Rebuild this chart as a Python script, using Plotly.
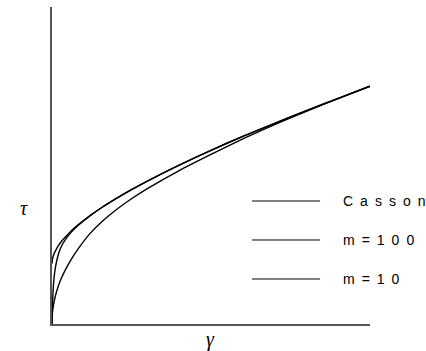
import plotly.graph_objects as go

# shear rate (arbitrary units)
gamma = [0, 0.1, 0.25, 0.5, 1, 2, 3, 4, 6, 8, 12, 16, 20, 25, 30, 40, 50, 60, 70, 80, 90, 100]

# shear stress for each curve
tau_casson = [19.0, 20.2, 20.9, 21.8, 22.9, 24.7, 26.1, 27.2, 29.3, 31.1, 34.2, 37.0,
              39.5, 42.4, 45.1, 50.1, 54.8, 59.2, 63.3, 67.3, 71.2, 75.0]
tau_m100 = [0.0, 4.6, 8.6, 12.8, 17.4, 22.0, 24.6, 26.3, 28.9, 30.9, 34.2, 37.0,
            39.5, 42.4, 45.1, 50.1, 54.8, 59.2, 63.3, 67.3, 71.2, 75.0]
tau_m10 = [0.0, 3.0, 4.6, 6.2, 8.6, 12.0, 14.6, 16.7, 20.3, 23.4, 28.6, 32.6,
           35.9, 39.5, 42.7, 48.4, 53.5, 58.4, 62.9, 67.1, 71.1, 75.0]

series = [
    ("C\u2002a\u2002s\u2002s\u2002o\u2002n", tau_casson),
    ("m\u2002=\u20021\u20020\u20020", tau_m100),
    ("m\u2002=\u20021\u20020", tau_m10),
]

fig = go.Figure()
for name, tau in series:
    fig.add_trace(
        go.Scatter(
            x=gamma,
            y=tau,
            mode="lines",
            name=name,
            line={"color": "black", "width": 1.4, "shape": "spline", "smoothing": 0.5},
            showlegend=False,
        )
    )

# hand-drawn legend: long sample line + spaced label
legend_y = [0.388, 0.265, 0.142]
for (name, _), ly in zip(series, legend_y):
    fig.add_shape(
        type="line", xref="paper", yref="paper",
        x0=0.629, x1=0.843, y0=ly, y1=ly,
        line={"color": "black", "width": 1},
    )
    fig.add_annotation(
        xref="paper", yref="paper", x=0.91, y=ly,
        text=name, showarrow=False, xanchor="left", yanchor="middle",
        font={"family": "Liberation Sans, Arial", "size": 14, "color": "black"},
    )

# axis symbols
fig.add_annotation(
    xref="paper", yref="paper", x=-0.088, y=0.365, text="<i>τ</i>",
    showarrow=False, xanchor="center", yanchor="middle",
    font={"family": "Liberation Serif, Times New Roman", "size": 20, "color": "black"},
)
fig.add_annotation(
    xref="paper", yref="paper", x=0.497, y=-0.05, text="<i>γ</i>",
    showarrow=False, xanchor="center", yanchor="middle",
    font={"family": "Liberation Serif, Times New Roman", "size": 20, "color": "black"},
)

axis_style = dict(
    showline=True, linecolor="#555555", linewidth=1.5,
    showgrid=False, zeroline=False, showticklabels=False, ticks="",
    range=[0, 100], fixedrange=True,
)
fig.update_layout(
    width=426,
    height=351,
    margin={"l": 52, "r": 56, "t": 7, "b": 27},
    paper_bgcolor="white",
    plot_bgcolor="white",
    xaxis=axis_style,
    yaxis=axis_style,
)

# drop the browser's default body margin so the figure sits at the window corner
fig.write_html("out.html", config={"displayModeBar": False},
               post_script="document.body.style.margin='0';")
